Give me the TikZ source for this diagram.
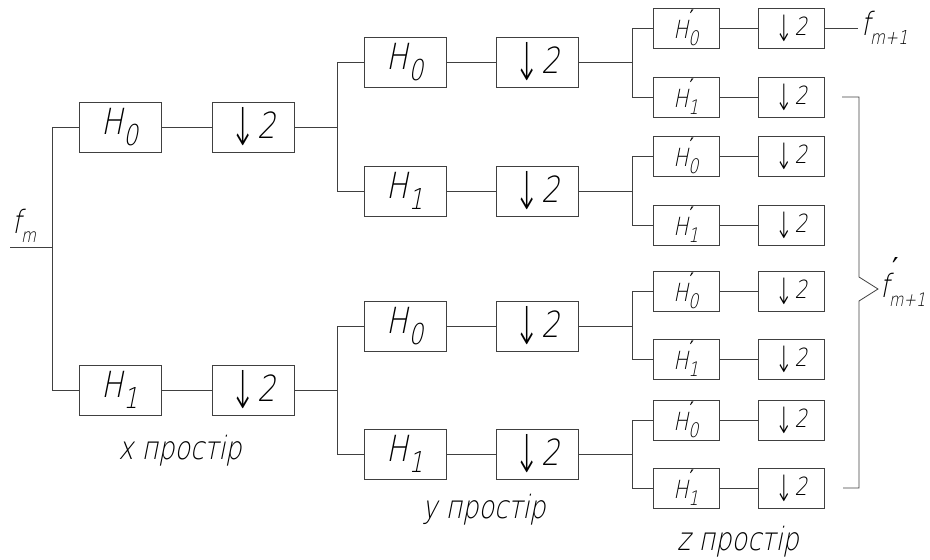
\documentclass[tikz,border=0pt]{standalone}
\usepackage{fontspec}
\usepackage{graphicx}
\setmainfont{DejaVu Sans ExtraLight}[FakeSlant=0.2,FakeStretch=0.8]
\newfontfamily\arrowfont{DejaVu Sans ExtraLight}[FakeStretch=0.8]
\newfontfamily\primefont{DejaVu Sans}
\newcommand{\Hsb}[1]{H\raisebox{-0.3em}{\scalebox{0.8}{#1}}}
\newcommand{\Hpr}[1]{H\rlap{\kern0.05em\raisebox{0.55em}{\scalebox{0.8}{\primefont ′}}}\raisebox{-0.3em}{\scalebox{0.8}{#1}}}
\newcommand{\dnt}{\raisebox{-0.22em}{\scalebox{1.05}[1.45]{\arrowfont ↓}}\kern0.05em 2}
\tikzset{
  wire/.style={draw=black!75, line width=0.8pt},
  bigbox/.style={draw=black!75, line width=0.8pt, minimum width=82pt, minimum height=50pt, inner sep=0pt, font=\fontsize{36}{36}\selectfont},
  smallbox/.style={draw=black!75, line width=0.8pt, minimum width=66pt, minimum height=40pt, inner sep=0pt, font=\fontsize{25}{25}\selectfont},
  lbl/.style={inner sep=0pt, font=\fontsize{32}{32}\selectfont},
  sig/.style={inner sep=0pt, font=\fontsize{32}{32}\selectfont}
}
\begin{document}
\begin{tikzpicture}[x=1pt,y=-1pt]
\useasboundingbox (0,0) rectangle (930,560);
% level 1
\node[bigbox] (h1a) at (120,127) {\Hsb{0}};
\node[bigbox] (d1a) at (253,127) {\dnt};
\node[bigbox] (h1b) at (120,390) {\Hsb{1}};
\node[bigbox] (d1b) at (253,390) {\dnt};
% level 2
\node[bigbox] (h2a) at (405,62)  {\Hsb{0}};
\node[bigbox] (d2a) at (537,62)  {\dnt};
\node[bigbox] (h2b) at (405,191) {\Hsb{1}};
\node[bigbox] (d2b) at (537,191) {\dnt};
\node[bigbox] (h2c) at (405,326) {\Hsb{0}};
\node[bigbox] (d2c) at (537,326) {\dnt};
\node[bigbox] (h2d) at (405,454) {\Hsb{1}};
\node[bigbox] (d2d) at (537,454) {\dnt};
% level 3
\foreach \i/\y/\s in {1/28/0,2/97/1,3/156/0,4/225/1,5/291/0,6/359/1,7/420/0,8/488/1}{
  \node[smallbox] (h3\i) at (686,\y) {\Hpr{\s}};
  \node[smallbox] (d3\i) at (791.5,\y) {\dnt};
  \draw[wire] (h3\i.east) -- (d3\i.west);
}
% connections level 1
\coordinate (in) at (10,247);
\coordinate (j1) at (52,247);
\draw[wire] (in) -- (j1);
\draw[wire] (j1) |- (h1a.west);
\draw[wire] (j1) |- (h1b.west);
\draw[wire] (h1a) -- (d1a);
\draw[wire] (h1b) -- (d1b);
% level 2 junctions
\coordinate (j2a) at (337,127);
\coordinate (j2b) at (337,390);
\draw[wire] (d1a.east) -- (j2a);
\draw[wire] (d1b.east) -- (j2b);
\draw[wire] (j2a) |- (h2a.west);
\draw[wire] (j2a) |- (h2b.west);
\draw[wire] (j2b) |- (h2c.west);
\draw[wire] (j2b) |- (h2d.west);
\draw[wire] (h2a) -- (d2a);
\draw[wire] (h2b) -- (d2b);
\draw[wire] (h2c) -- (d2c);
\draw[wire] (h2d) -- (d2d);
% level 3 junctions
\coordinate (j3a) at (632,62);
\coordinate (j3b) at (632,191);
\coordinate (j3c) at (632,326);
\coordinate (j3d) at (632,454);
\draw[wire] (d2a.east) -- (j3a);
\draw[wire] (d2b.east) -- (j3b);
\draw[wire] (d2c.east) -- (j3c);
\draw[wire] (d2d.east) -- (j3d);
\draw[wire] (j3a) |- (h31.west);
\draw[wire] (j3a) |- (h32.west);
\draw[wire] (j3b) |- (h33.west);
\draw[wire] (j3b) |- (h34.west);
\draw[wire] (j3c) |- (h35.west);
\draw[wire] (j3c) |- (h36.west);
\draw[wire] (j3d) |- (h37.west);
\draw[wire] (j3d) |- (h38.west);
% output
\coordinate (out) at (858,28);
\draw[wire] (d31.east) -- (out);
% bracket
\coordinate (b1) at (842,97);
\coordinate (b2) at (859,97);
\coordinate (b3) at (859,277);
\coordinate (b4) at (878,289);
\coordinate (b5) at (859,301);
\coordinate (b6) at (859,488);
\coordinate (b7) at (843,488);
\draw[wire] (b1) -- (b2) -- (b3) -- (b4) -- (b5) -- (b6) -- (b7);
% signal labels
\node[sig] (fm) at (24,226) {f\raisebox{-0.3em}{\scalebox{0.6}{m}}};
\node[sig, anchor=west] (fm1) at (861,28) {f\raisebox{-0.3em}{\scalebox{0.6}{m+1}}};
\node[sig, anchor=west] (fm1p) at (880,282) {f\rlap{\kern0.1em\raisebox{0.6em}{\scalebox{0.9}{\primefont ′}}}\raisebox{-0.3em}{\scalebox{0.58}{m+1}}};
% space labels
\node[lbl] (xs) at (180,451) {x простір};
\node[lbl] (ys) at (484,510) {y простір};
\node[lbl] (zs) at (738,542) {z простір};
\end{tikzpicture}
\end{document}
